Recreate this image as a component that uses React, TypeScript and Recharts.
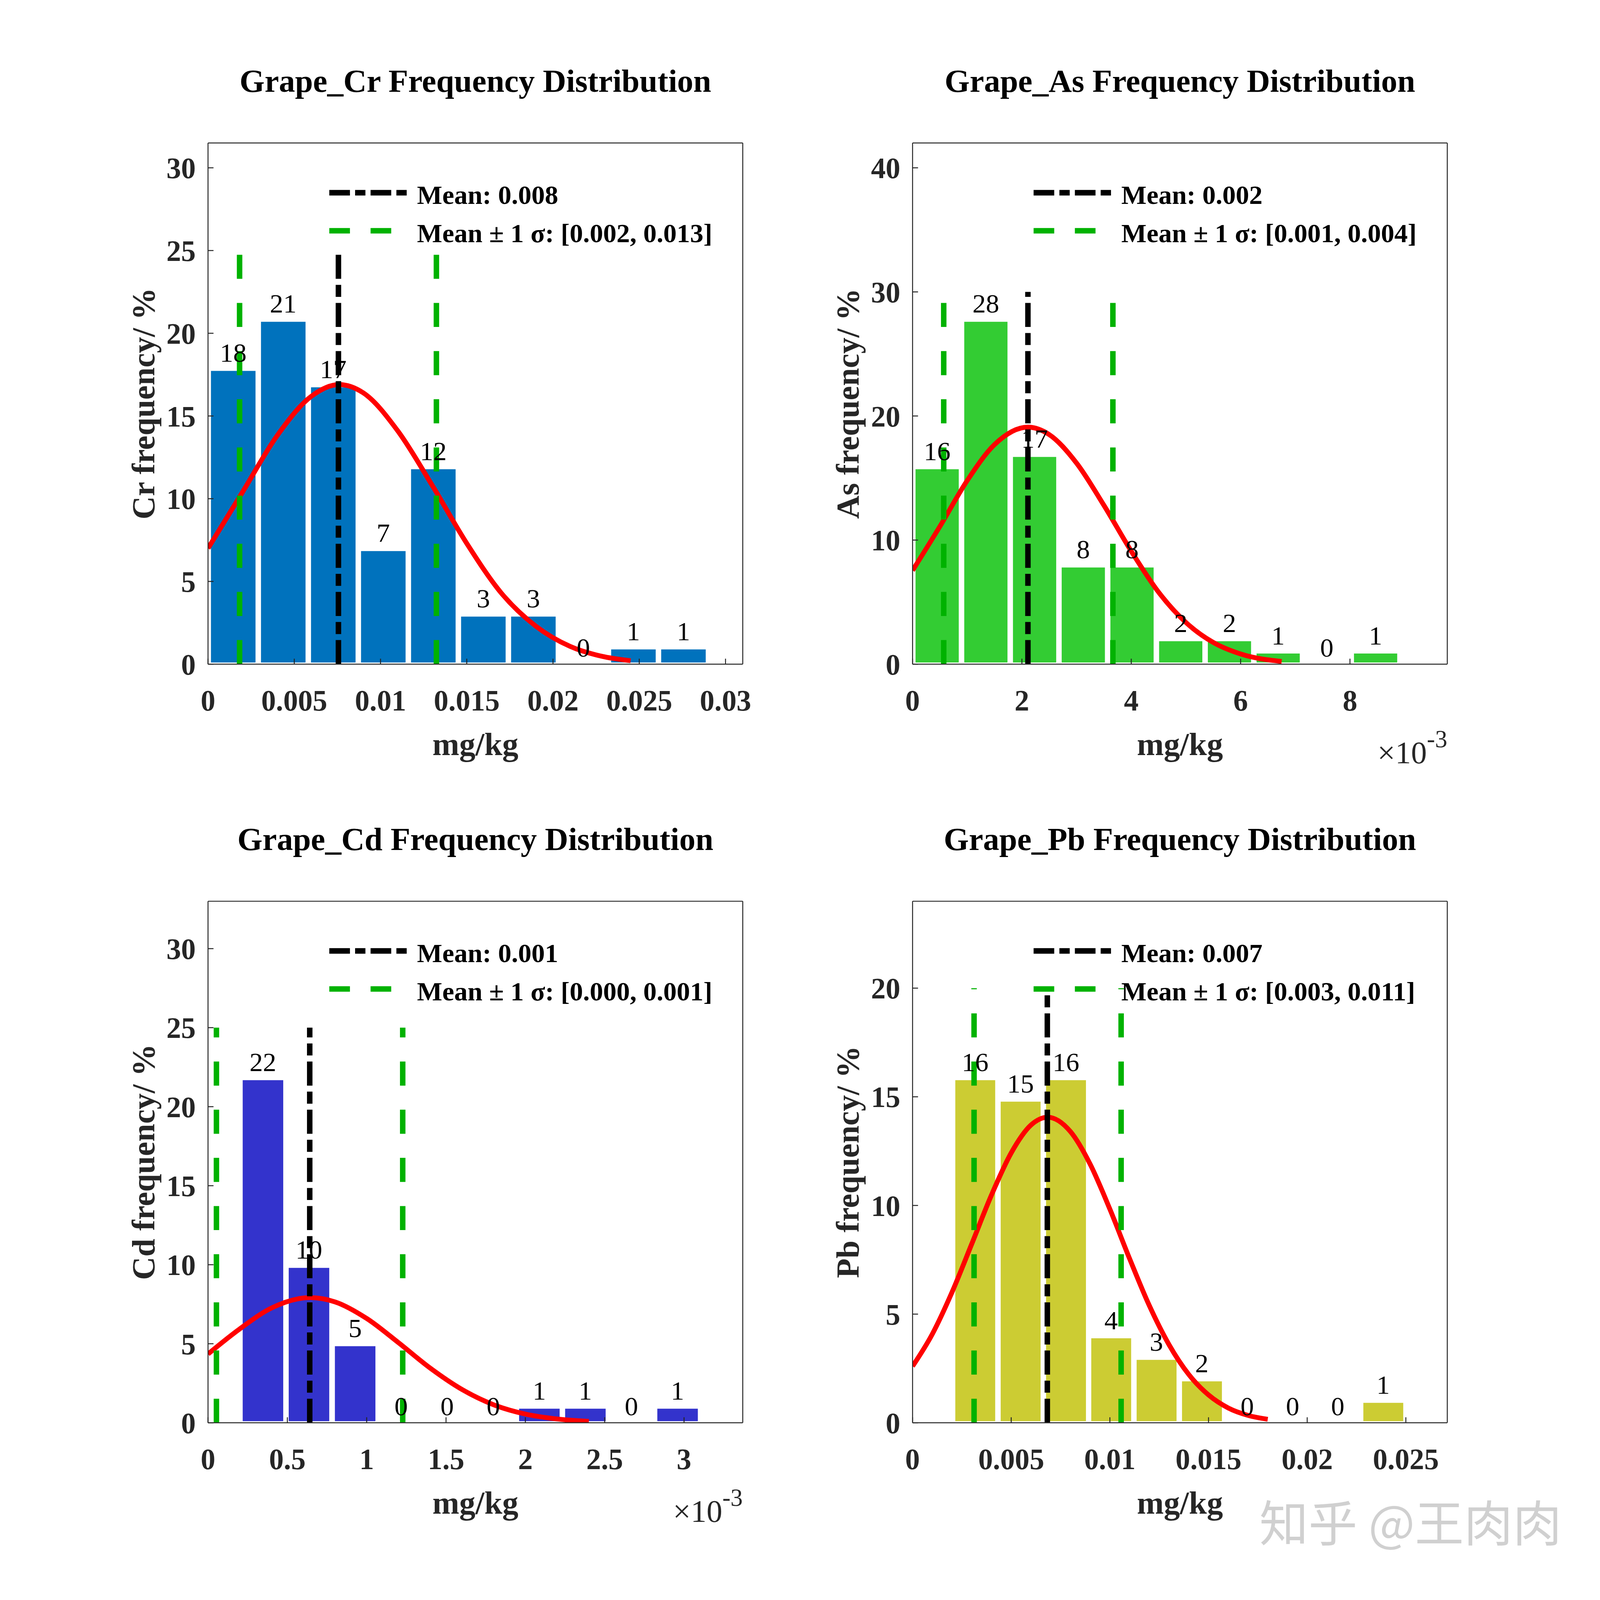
import React from "react";
import { Bar, ComposedChart, LabelList, Legend, Line, XAxis, YAxis } from "recharts";

const SERIF = '"Liberation Serif", "Times New Roman", serif';
const AXIS = "#262626";
const GREEN = "#00b200";

// Cr
const crCenters = [0.00146, 0.00436, 0.00726, 0.01016, 0.01306, 0.01596, 0.01886, 0.02176, 0.02466, 0.02756];
const crPercent = [17.82, 20.79, 16.83, 6.93, 11.88, 2.97, 2.97, 0, 0.99, 0.99];
const crCurveX = [0, 0.002, 0.004, 0.006, 0.0076, 0.009, 0.011, 0.013, 0.015, 0.017, 0.019, 0.021, 0.023, 0.0245];
const crCurveY = [7.0, 10.4, 13.8, 16.2, 16.9, 16.4, 14.1, 10.8, 7.3, 4.3, 2.3, 1.07, 0.44, 0.21];
const crXTicks = [0, 0.005, 0.01, 0.015, 0.02, 0.025, 0.03];
const crYTicks = [0, 5, 10, 15, 20, 25, 30];

// As
const asCenters = [0.000449, 0.00134, 0.002231, 0.003122, 0.004013, 0.004904, 0.005795, 0.006686, 0.007577, 0.008468];
const asPercent = [15.84, 27.72, 16.83, 7.92, 7.92, 1.98, 1.98, 0.99, 0, 0.99];
const asCurveX = [0, 0.0005, 0.001, 0.0015, 0.00211, 0.0025, 0.003, 0.0035, 0.004, 0.0045, 0.005, 0.0055, 0.006, 0.00675];
const asCurveY = [7.55, 11.1, 14.8, 17.7, 19.1, 18.5, 16.2, 12.8, 9.1, 5.8, 3.36, 1.75, 0.82, 0.22];
const asXTicks = [0, 0.002, 0.004, 0.006, 0.008];
const asYTicks = [0, 10, 20, 30, 40];

// Cd
const cdCenters = [0.000346, 0.000636, 0.000927, 0.001217, 0.001507, 0.001798, 0.002088, 0.002378, 0.002668, 0.002959];
const cdPercent = [21.78, 9.9, 4.95, 0, 0, 0, 0.99, 0.99, 0, 0.99];
const cdCurveX = [0, 0.0002, 0.0004, 0.000645, 0.0008, 0.001, 0.0012, 0.0014, 0.0016, 0.0018, 0.002, 0.0022, 0.0024];
const cdCurveY = [4.35, 5.94, 7.26, 7.92, 7.65, 6.6, 5.07, 3.46, 2.11, 1.14, 0.55, 0.24, 0.09];
const cdXTicks = [0, 0.0005, 0.001, 0.0015, 0.002, 0.0025, 0.003];
const cdYTicks = [0, 5, 10, 15, 20, 25, 30];

// Pb
const pbCenters = [0.00317, 0.00547, 0.00777, 0.01006, 0.01236, 0.01466, 0.01696, 0.01926, 0.02155, 0.02385];
const pbPercent = [15.84, 14.85, 15.84, 3.96, 2.97, 1.98, 0, 0, 0, 0.99];
const pbCurveX = [0, 0.001, 0.002, 0.003, 0.004, 0.005, 0.006, 0.00685, 0.008, 0.009, 0.01, 0.011, 0.012, 0.013, 0.014, 0.015, 0.016, 0.017, 0.018];
const pbCurveY = [2.6, 4.08, 6.01, 8.23, 10.48, 12.42, 13.7, 14.06, 13.4, 11.9, 9.83, 7.55, 5.39, 3.59, 2.22, 1.28, 0.68, 0.34, 0.16];
const pbXTicks = [0, 0.005, 0.01, 0.015, 0.02, 0.025];
const pbYTicks = [0, 5, 10, 15, 20];

type PanelSpec = {
  name: string;
  color: string;
  centers: number[];
  percent: number[];
  curveX: number[];
  curveY: number[];
  xTicks: number[];
  yTicks: number[];
  xMax: number;
  yMax: number;
  mean: number;
  lo: number;
  hi: number;
  lineTop: number;
  meanText: string;
  bandText: string;
  exponent: boolean;
  fmt: (v: number) => string;
};

const panels: PanelSpec[] = [
  {
    name: "Cr", color: "#0072bd", centers: crCenters, percent: crPercent, curveX: crCurveX, curveY: crCurveY,
    xTicks: crXTicks, yTicks: crYTicks, xMax: 0.031, yMax: 31.5, mean: 0.00756, lo: 0.00183, hi: 0.01324, lineTop: 25,
    meanText: "Mean: 0.008", bandText: "Mean \u00b1 1 \u03c3: [0.002, 0.013]", exponent: false, fmt: (v) => String(v),
  },
  {
    name: "As", color: "#33cc33", centers: asCenters, percent: asPercent, curveX: asCurveX, curveY: asCurveY,
    xTicks: asXTicks, yTicks: asYTicks, xMax: 0.00978, yMax: 42, mean: 0.00211, lo: 0.00057, hi: 0.003664, lineTop: 30,
    meanText: "Mean: 0.002", bandText: "Mean \u00b1 1 \u03c3: [0.001, 0.004]", exponent: true, fmt: (v) => String(Math.round(v * 1000)),
  },
  {
    name: "Cd", color: "#3333cc", centers: cdCenters, percent: cdPercent, curveX: cdCurveX, curveY: cdCurveY,
    xTicks: cdXTicks, yTicks: cdYTicks, xMax: 0.00337, yMax: 33, mean: 0.000641, lo: 0.000053, hi: 0.001227, lineTop: 25,
    meanText: "Mean: 0.001", bandText: "Mean \u00b1 1 \u03c3: [0.000, 0.001]", exponent: true, fmt: (v) => String(Math.round(v * 10000) / 10),
  },
  {
    name: "Pb", color: "#cccc33", centers: pbCenters, percent: pbPercent, curveX: pbCurveX, curveY: pbCurveY,
    xTicks: pbXTicks, yTicks: pbYTicks, xMax: 0.0271, yMax: 24, mean: 0.00683, lo: 0.003117, hi: 0.01057, lineTop: 20,
    meanText: "Mean: 0.007", bandText: "Mean \u00b1 1 \u03c3: [0.003, 0.011]", exponent: false, fmt: (v) => String(v),
  },
];

// layout measured on a 4961 x 4252 page; scaled to whatever the window really is
const BASE_W = 4961;
const BASE_H = 4252;
const boxes = [
  { left: 0, top: 0, width: 2480, height: 2126, plot: { l: 645, r: 2303, t: 380, b: 1765 } },
  { left: 2480, top: 0, width: 2481, height: 2126, plot: { l: 349, r: 2007, t: 380, b: 1765 } },
  { left: 0, top: 2126, width: 2480, height: 2126, plot: { l: 645, r: 2303, t: 269, b: 1655 } },
  { left: 2480, top: 2126, width: 2481, height: 2126, plot: { l: 349, r: 2007, t: 269, b: 1655 } },
];

const AXW = 100;

type Geo = { sx: number; sy: number };

function LegendBox({ meanText, bandText, g }: { meanText: string; bandText: string; g: Geo }) {
  const { sx, sy } = g;
  const textStyle = { fontFamily: SERIF, fontSize: 83 * sx, fontWeight: 700, fill: "#000" };
  const lw = 17 * sx;
  return (
    <svg width={1300 * sx} height={230 * sy} style={{ overflow: "visible", display: "block" }}>
      <line x1={0} x2={240 * sx} y1={72 * sy} y2={72 * sy} stroke="#000" strokeWidth={lw}
        strokeDasharray={`${64 * sx} ${16 * sx} ${32 * sx} ${16 * sx}`} />
      <line x1={0} x2={240 * sx} y1={173 * sy} y2={173 * sy} stroke={GREEN} strokeWidth={lw}
        strokeDasharray={`${64 * sx} ${64 * sx}`} />
      <text x={272 * sx} y={102 * sy} {...textStyle}>{meanText}</text>
      <text x={272 * sx} y={203 * sy} {...textStyle}>{bandText}</text>
    </svg>
  );
}

function Panel({ p, box, g }: { p: PanelSpec; box: (typeof boxes)[number]; g: Geo }) {
  const { sx, sy } = g;
  const W = box.width * sx;
  const H = box.height * sy;
  const l = box.plot.l * sx;
  const r = box.plot.r * sx;
  const t = box.plot.t * sy;
  const b = box.plot.b * sy;
  const margin = { left: l - AXW, right: W - r - AXW, top: t - AXW, bottom: H - b - AXW };

  const tickFs = 91 * sx;
  const labelFs = 100 * sx;
  const tickLen = 17 * sx;
  const xTickMargin = 123 * sy - 0.71 * tickFs + tickLen;
  const yTickMargin = 38 * sx + tickLen;
  const lw = 17 * sx;
  const vDash = `${64 * sy} ${64 * sy}`;
  const vDashDot = `${64 * sy} ${16 * sy} ${32 * sy} ${16 * sy}`;

  const binPx = ((p.centers[1] - p.centers[0]) / p.xMax) * (r - l);
  const bins = p.centers.map((x, i) => ({ x, v: p.percent[i] }));
  const curve = p.curveX.map((x, i) => ({ x, y: p.curveY[i] }));
  const meanRows = [{ x: p.mean, y: 0 }, { x: p.mean, y: p.lineTop }];
  const loRows = [{ x: p.lo, y: 0 }, { x: p.lo, y: p.lineTop }];
  const hiRows = [{ x: p.hi, y: 0 }, { x: p.hi, y: p.lineTop }];
  const axisLine = { stroke: AXIS, strokeWidth: 3 * sx };
  const tickFont = { fill: AXIS, fontSize: tickFs, fontWeight: 700, fontFamily: SERIF };

  return (
    <div style={{ position: "absolute", left: box.left * sx, top: box.top * sy }}>
      <ComposedChart width={W} height={H} data={bins} margin={margin}>
        <XAxis
          dataKey="x" type="number" domain={[0, p.xMax]} ticks={p.xTicks} allowDataOverflow interval={0}
          tickFormatter={p.fmt} height={AXW} tickSize={-tickLen} tickMargin={xTickMargin}
          axisLine={axisLine} tickLine={axisLine} tick={tickFont}
          label={(props: any) => {
            const vb = props.viewBox;
            return (
              <g>
                <text x={vb.x + vb.width / 2} y={vb.y + 242 * sy} textAnchor="middle" fontFamily={SERIF} fontSize={labelFs} fontWeight={700} fill={AXIS}>mg/kg</text>
                {p.exponent && (
                  <text x={vb.x + vb.width} y={vb.y + 263 * sy} textAnchor="end" fontFamily={SERIF} fontSize={98 * sx} fill={AXIS}>
                    {"\u00d710"}
                    <tspan dy={-42 * sy} fontSize={76 * sx}>-3</tspan>
                  </text>
                )}
              </g>
            );
          }}
        />
        <XAxis
          xAxisId="t" dataKey="x" orientation="top" type="number" domain={[0, p.xMax]} ticks={p.xTicks} allowDataOverflow
          interval={0} height={AXW} tickSize={-tickLen} tick={false} axisLine={axisLine} tickLine={axisLine}
          label={(props: any) => {
            const vb = props.viewBox;
            return (
              <text x={vb.x + vb.width / 2} y={vb.y + vb.height - 136 * sy} textAnchor="middle" fontFamily={SERIF} fontSize={labelFs} fontWeight={700} fill="#000">
                {`Grape_${p.name} Frequency Distribution`}
              </text>
            );
          }}
        />
        <YAxis
          type="number" domain={[0, p.yMax]} ticks={p.yTicks} allowDataOverflow interval={0} width={AXW}
          tickSize={-tickLen} tickMargin={yTickMargin} axisLine={axisLine} tickLine={axisLine} tick={tickFont}
          label={(props: any) => {
            const vb = props.viewBox;
            const x = vb.x + vb.width - 167 * sx;
            const y = vb.y + vb.height / 2;
            return (
              <text x={x} y={y} transform={`rotate(-90 ${x} ${y})`} textAnchor="middle" fontFamily={SERIF} fontSize={labelFs} fontWeight={700} fill={AXIS}>
                {`${p.name} frequency/ %`}
              </text>
            );
          }}
        />
        <YAxis
          yAxisId="r" orientation="right" type="number" domain={[0, p.yMax]} ticks={p.yTicks} allowDataOverflow
          interval={0} width={AXW} tickSize={-tickLen} tick={false} axisLine={axisLine} tickLine={axisLine}
        />
        <Bar dataKey="v" fill={p.color} stroke="#ffffff" strokeWidth={10 * sx} barSize={binPx - 7 * sx} isAnimationActive={false} />
        <Line xAxisId="t" data={curve} dataKey="y" type="monotone" stroke="#ff0000" strokeWidth={15 * sx} dot={false} activeDot={false} isAnimationActive={false} />
        <Line data={bins} dataKey="v" stroke="none" dot={false} activeDot={false} isAnimationActive={false}>
          <LabelList dataKey="v" position="top" offset={20 * sy} fill="#000" fontSize={83 * sx} fontFamily={SERIF} formatter={(v: any) => Math.round(Number(v))} />
        </Line>
        <Line xAxisId="t" data={meanRows} dataKey="y" type="linear" stroke="#000000" strokeWidth={lw} strokeDasharray={vDashDot} dot={false} activeDot={false} isAnimationActive={false} />
        <Line xAxisId="t" data={loRows} dataKey="y" type="linear" stroke={GREEN} strokeWidth={lw} strokeDasharray={vDash} dot={false} activeDot={false} isAnimationActive={false} />
        <Line xAxisId="t" data={hiRows} dataKey="y" type="linear" stroke={GREEN} strokeWidth={lw} strokeDasharray={vDash} dot={false} activeDot={false} isAnimationActive={false} />
        <Legend
          layout="horizontal" verticalAlign="middle" align="center"
          wrapperStyle={{ left: l + 376 * sx, top: t + 60 * sy, width: 1300 * sx, height: 230 * sy }}
          content={() => <LegendBox meanText={p.meanText} bandText={p.bandText} g={g} />}
        />
      </ComposedChart>
    </div>
  );
}

export default function App() {
  const vw = (typeof window !== "undefined" && window.innerWidth) || BASE_W;
  const vh = (typeof window !== "undefined" && window.innerHeight) || BASE_H;
  const g: Geo = { sx: vw / BASE_W, sy: vh / BASE_H };
  return (
    <div style={{ position: "absolute", left: 0, top: 0, width: vw, height: vh, background: "#fff", overflow: "hidden" }}>
      {panels.map((p, i) => (
        <Panel key={p.name} p={p} box={boxes[i]} g={g} />
      ))}
      <div
        style={{
          position: "absolute", left: 3905 * g.sx, top: 3975 * g.sy, fontSize: 152 * g.sx, lineHeight: 1, color: "#d0d0d0",
          fontFamily: '"Noto Sans CJK SC", sans-serif', whiteSpace: "nowrap",
        }}
      >
        知乎 @王肉肉
      </div>
    </div>
  );
}
